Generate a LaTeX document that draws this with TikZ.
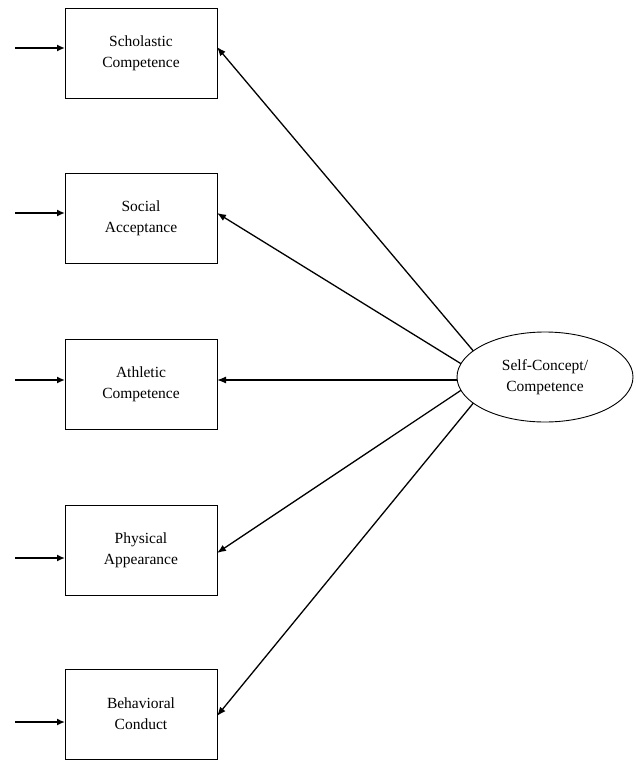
\documentclass[tikz,border=0pt]{standalone}
\usepackage{fontspec}
\setmainfont{Liberation Serif}
\usetikzlibrary{arrows.meta,shapes.geometric}
\begin{document}
\begin{tikzpicture}[x=1pt,y=1pt,
  box/.style={draw,line width=0.9pt,minimum width=152pt,minimum height=90pt,inner sep=0pt,outer sep=0pt,align=center,font=\fontsize{15.5}{21}\selectfont},
  lat/.style={draw,ellipse,line width=0.9pt,minimum width=176pt,minimum height=90pt,inner sep=0pt,outer sep=0pt,align=center,font=\fontsize{15.5}{21}\selectfont},
  inarr/.style={line width=1.6pt,-{Latex[length=8pt,width=7pt]}},
  path/.style={line width=1.3pt,-{Latex[length=9pt,width=7pt]}}]
\useasboundingbox (0,0) rectangle (636,-760);
\node[box] (b1) at (141,-53) {Scholastic\\Competence};
\node[box] (b2) at (141,-218) {Social\\Acceptance};
\node[box] (b3) at (141,-384) {Athletic\\Competence};
\node[box] (b4) at (141,-550) {Physical\\Appearance};
\node[box] (b5) at (141,-714) {Behavioral\\Conduct};
\node[lat] (e) at (545,-377) {Self-Concept/\\Competence};
\coordinate (s1) at (15,-48);
\coordinate (s2) at (15,-213);
\coordinate (s3) at (15,-380);
\coordinate (s4) at (15,-558);
\coordinate (s5) at (15,-722);
\draw[inarr] (s1) -- (b1.west |- s1);
\draw[inarr] (s2) -- (b2.west |- s2);
\draw[inarr] (s3) -- (b3.west |- s3);
\draw[inarr] (s4) -- (b4.west |- s4);
\draw[inarr] (s5) -- (b5.west |- s5);
\coordinate (t1) at (217,-47);
\coordinate (t2) at (217,-213);
\coordinate (t3) at (217,-380);
\coordinate (t4) at (217,-553);
\coordinate (t5) at (217,-716);
\draw[path] (e.160) -- (b1.east |- t1);
\draw[path] (e.171) -- (b2.east |- t2);
\draw[path] (e.west |- t3) -- (b3.east |- t3);
\draw[path] (e.189) -- (b4.east |- t4);
\draw[path] (e.200) -- (b5.east |- t5);
\end{tikzpicture}
\end{document}
